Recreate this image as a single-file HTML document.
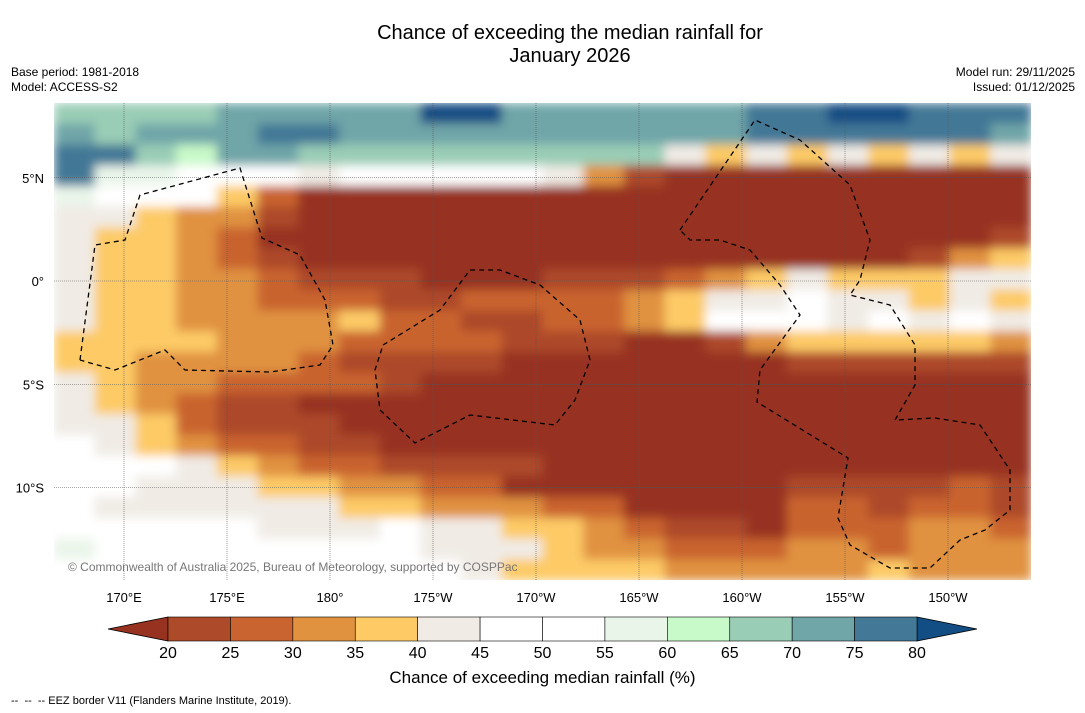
<!DOCTYPE html>
<html><head><meta charset="utf-8">
<style>
body{margin:0;background:#fff;font-family:"Liberation Sans",sans-serif;}
#wrap{position:relative;width:1085px;height:713px;overflow:hidden;background:#fff;}
.t{position:absolute;white-space:nowrap;color:#000;}
</style></head><body>
<div id="wrap">
<div class="t" style="left:0;width:1140px;text-align:center;top:22px;font-size:20px;line-height:23px;">Chance of exceeding the median rainfall for<br>January 2026</div>
<div class="t" style="left:11px;top:65px;font-size:12px;line-height:15px;">Base period: 1981-2018<br>Model: ACCESS-S2</div>
<div class="t" style="right:10px;top:65px;font-size:12px;line-height:15px;text-align:right;">Model run: 29/11/2025<br>Issued: 01/12/2025</div>
<svg id="svg" width="1085" height="713" style="position:absolute;left:0;top:0">
<defs>
<filter id="soft" x="0" y="0" width="100%" height="100%"><feGaussianBlur stdDeviation="5" edgeMode="duplicate"/></filter>
<clipPath id="mapclip"><rect x="54" y="103" width="977" height="477"/></clipPath>
</defs>
</svg>
<div class="t" style="left:0;width:1085px;text-align:center;top:668px;font-size:17px;">Chance of exceeding median rainfall (%)</div>
<div class="t" style="left:11px;top:695px;font-size:11px;">--&nbsp; --&nbsp; -- EEZ border V11 (Flanders Marine Institute, 2019).</div>
</div>
<script>
const rows=[
"jjjjkkkkkmmkkkkkkllmmlll",
"kjkkkllkkkkkkkkkkllllllk",
"lljikkjjjjjjjjjfefefefef",
"lhhgggfgggggfdbaaaaaaaaa",
"hgggecaaaaaaaaaaaaaaaaaa",
"ffeddbaaaaaaaaaaaaaaaaaa",
"feedcaaaaaaaaaaaaaaaaaab",
"feedcbaaaaaaaaaaaaaaabde",
"feeddcbbbaaabbbcdefeeeff",
"feeddcccbbccccdeffgffefe",
"feeddddeccbbccdegggfgfgf",
"eeeedddccccbbbaabdeeeeed",
"eeddddcbbbbaaaaaaabbbbbb",
"feddccccbaaaaaaaaaaaaaaa",
"fedcbbaaaaaaaaaaaaaaaaaa",
"ffecbbbaaaaaaaaaaaaaaaaa",
"gfedccbbaaaaaaaaaaaaaaaa",
"gggfedccbbbbaaaaaaaaaaaa",
"ggfffeeddccaaaaaaabbbbcb",
"gffffffeedddccaaaaccbccb",
"gggggfffgffeedcbbacccddc",
"hggggggggfffeddcccddcddd",
"ggggggggggfeeeedddddeddd"];
const levelCodes="abcdefghijklm";
const levelColors=["#973220","#ad4a2a","#c9632f","#e0923f","#fdca66","#f0ebe5","#ffffff","#eaf5ea","#c8f9c8","#9acdb6","#70a6a8","#437896","#124d84"];
const binLevels=[1,2,3,4,5,6,6,7,8,9,10,11];
const tickLabels=["20","25","30","35","40","45","50","55","60","65","70","75","80"];
const lonTicks=[170,175,180,185,190,195,200,205,210];
const lonLabels=["170°E","175°E","180°","175°W","170°W","165°W","160°W","155°W","150°W"];
const latTicks=[5,0,-5,-10];
const latLabels=["5°N","0°","5°S","10°S"];
const NS="http://www.w3.org/2000/svg";
const svg=document.getElementById('svg');
const X0=54,X1=1031,Y0=103,Y1=580;
const lonX=l=>124+(l-170)*20.6;
const latY=l=>281-l*20.65;
function mk(t,a,p){const e=document.createElementNS(NS,t);for(const k in a)e.setAttribute(k,a[k]);(p||svg).appendChild(e);return e;}
const clip=mk('g',{'clip-path':'url(#mapclip)'});


const g=mk('g',{filter:'url(#soft)'},clip);


const cw=(X1-X0)/24,ch=(Y1-Y0)/rows.length;
rows.forEach((r,i)=>{for(let j=0;j<r.length;j++){
 const c=mk('rect',{x:X0+j*cw,y:Y0+i*ch,width:cw+0.6,height:ch+0.6,fill:levelColors[levelCodes.indexOf(r[j])]},g);
 
 
}});
lonTicks.forEach((l,i)=>{const x=lonX(l);
 const ln=mk('line',{x1:x,x2:x,y1:Y0,y2:Y1,stroke:'#555','stroke-width':0.6,'stroke-dasharray':'1,1'});
 
 
 const t=mk('text',{x:x,y:602,'font-size':13,'text-anchor':'middle','font-family':'Liberation Sans'});t.textContent=lonLabels[i];
 
 
});
latTicks.forEach((l,i)=>{const y=latY(l);
 const ln=mk('line',{x1:X0,x2:X1,y1:y,y2:y,stroke:'#555','stroke-width':0.6,'stroke-dasharray':'1,1'});
 
 
 const t=mk('text',{x:44,y:y+5,'font-size':13,'text-anchor':'end','font-family':'Liberation Sans'});t.textContent=latLabels[i];
 
 
});
const eez=[
"80,360 95,245 125,240 140,195 240,168 262,238 300,255 325,300 333,345 320,365 270,372 185,370 165,350 115,370 80,360",
"383,345 440,310 470,270 500,270 540,285 580,320 590,360 575,400 555,425 470,415 415,443 380,410 375,370 383,345",
"680,230 755,120 800,140 850,185 870,240 860,280 850,295 890,305 915,345 915,385 895,420 935,418 980,425 1010,470 1010,510 985,530 960,540 930,568 890,568 850,545 838,518 848,458 757,402 760,370 800,315 780,285 750,250 720,240 690,240 680,230"];
eez.forEach(p=>{const e=mk('polyline',{points:p,fill:'none',stroke:'#000','stroke-width':1.3,'stroke-dasharray':'5,4'});
 
 });
const cr=mk('text',{x:68,y:571,'font-size':12,fill:'#777','font-family':'Liberation Sans'});cr.textContent="© Commonwealth of Australia 2025, Bureau of Meteorology, supported by COSPPac";


const cbX0=168,cbX1=917,cbY=617,cbH=24,bw=(cbX1-cbX0)/12;
const lt=mk('polygon',{points:`${cbX0},${cbY} 108,${cbY+cbH/2} ${cbX0},${cbY+cbH}`,fill:levelColors[0],stroke:'#000','stroke-width':0.8});


const rt=mk('polygon',{points:`${cbX1},${cbY} 977,${cbY+cbH/2} ${cbX1},${cbY+cbH}`,fill:levelColors[12],stroke:'#000','stroke-width':0.8});


binLevels.forEach((lv,i)=>{const r=mk('rect',{x:cbX0+i*bw,y:cbY,width:bw,height:cbH,fill:levelColors[lv],stroke:'#000','stroke-width':0.6});
 
 });
tickLabels.forEach((s,i)=>{const t=mk('text',{x:cbX0+i*bw,y:658,'font-size':16,'text-anchor':'middle','font-family':'Liberation Sans'});t.textContent=s;
 
 });
</script>
</body></html>
